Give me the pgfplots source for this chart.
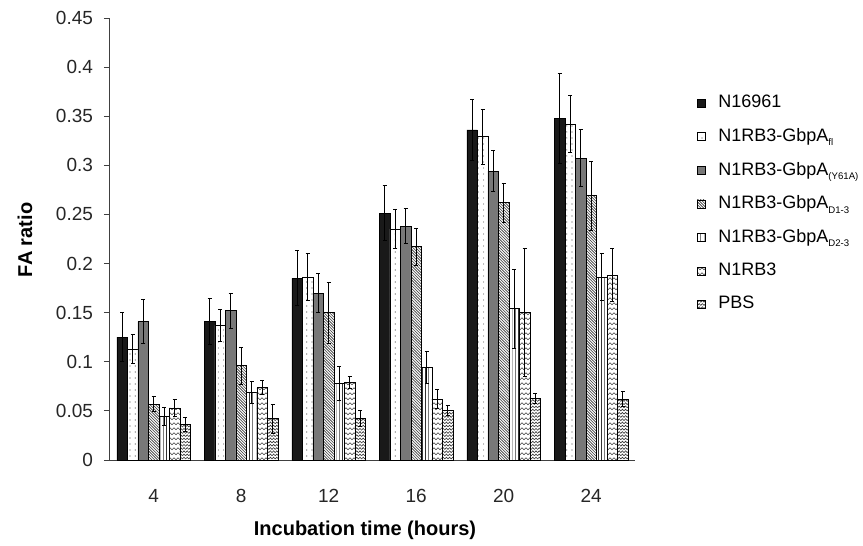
\documentclass[border=0pt]{standalone}
\usepackage{pgfplots}
\pgfplotsset{compat=1.18}
\usepackage{fontspec}
\setmainfont{Liberation Sans}
\usetikzlibrary{patterns}

\newcommand{\sub}[1]{\raisebox{-2.2pt}{\fontsize{4.8}{5}\selectfont #1}}

\pgfdeclarepatternformonly{sdots}{\pgfqpoint{-0.5pt}{-0.5pt}}{\pgfqpoint{0.5pt}{0.5pt}}{\pgfqpoint{2.6pt}{3pt}}{
  \pgfpathcircle{\pgfqpoint{0pt}{0pt}}{0.28pt}\pgfusepath{fill}}
\pgfdeclarepatternformonly{ddiag}{\pgfqpoint{-0.2pt}{-0.2pt}}{\pgfqpoint{1.6pt}{1.6pt}}{\pgfqpoint{1.4pt}{1.4pt}}{
  \pgfsetlinewidth{0.3pt}
  \pgfpathmoveto{\pgfqpoint{0pt}{1.4pt}}\pgfpathlineto{\pgfqpoint{1.4pt}{0pt}}\pgfusepath{stroke}}
\pgfdeclarepatternformonly{vlines}{\pgfqpoint{-0.2pt}{-0.2pt}}{\pgfqpoint{0.2pt}{2pt}}{\pgfqpoint{1.6pt}{2pt}}{
  \pgfsetlinewidth{0.35pt}
  \pgfpathmoveto{\pgfqpoint{0pt}{0pt}}\pgfpathlineto{\pgfqpoint{0pt}{2pt}}\pgfusepath{stroke}}
\pgfdeclarepatternformonly{wavy}{\pgfqpoint{-0.2pt}{-0.2pt}}{\pgfqpoint{2.2pt}{2.7pt}}{\pgfqpoint{2pt}{2.5pt}}{
  \pgfsetlinewidth{0.3pt}
  \pgfpathmoveto{\pgfqpoint{0pt}{0.6pt}}\pgfpathlineto{\pgfqpoint{1pt}{1.6pt}}\pgfpathlineto{\pgfqpoint{2pt}{0.6pt}}\pgfusepath{stroke}}
\pgfdeclarepatternformonly{dwavy}{\pgfqpoint{-0.2pt}{-0.2pt}}{\pgfqpoint{1.8pt}{1.8pt}}{\pgfqpoint{1.6pt}{1.6pt}}{
  \pgfsetlinewidth{0.3pt}
  \pgfpathmoveto{\pgfqpoint{0pt}{0.3pt}}\pgfpathlineto{\pgfqpoint{0.8pt}{1.2pt}}\pgfpathlineto{\pgfqpoint{1.6pt}{0.3pt}}\pgfusepath{stroke}}

\begin{document}
\begin{tikzpicture}
\useasboundingbox (-55pt,-43pt) rectangle (376.5pt,230pt);
\begin{axis}[
  at={(0pt,0pt)}, anchor=origin,
  scale only axis,
  width=262.5pt, height=221pt,
  xmin=0.5, xmax=6.5,
  ymin=0, ymax=0.45,
  axis x line=bottom, axis y line=left,
  axis line style={-, black!75, line width=0.5pt},
  ybar, bar width=0.12,
  xtick={1,2,3,4,5,6},
  xticklabels={4,8,12,16,20,24},
  xtick style={draw=none},
  extra x ticks={0.5,1.5,2.5,3.5,4.5,5.5,6.5},
  extra x tick labels={},
  extra x tick style={tick style={draw=black!75, line width=0.5pt}, major tick length=3pt},
  ytick={0,0.05,0.1,0.15,0.2,0.25,0.3,0.35,0.4,0.45},
  yticklabels={0,0.05,0.1,0.15,0.2,0.25,0.3,0.35,0.4,0.45},
  ytick style={draw=black!75, line width=0.5pt},
  tick align=outside,
  major tick length=3pt,
  tick label style={font=\fontsize{9.5}{11}\selectfont, text=black!85},
  xticklabel style={yshift=-8pt},
  yticklabel style={xshift=-2pt},
  /pgf/number format/assume math mode=true,
  xlabel={\textbf{Incubation time (hours)}},
  ylabel={\textbf{FA ratio}},
  label style={font=\fontsize{12}{14}\selectfont},
  every axis x label/.style={at={([yshift=-35pt]axis description cs:0.4857,0)}, anchor=center},
  every axis y label/.style={at={([xshift=-42.5pt]axis description cs:0,0.498)}, rotate=90, anchor=center},
  error bars/y dir=both, error bars/y explicit,
  error bars/error bar style={line width=0.5pt, black},
  error bars/error mark options={rotate=90, mark size=1.1pt, line width=0.5pt, black},
  legend style={at={(axis description cs:1.117,0.835)}, anchor=north west, draw=none, fill=none,
    font=\fontsize{9}{10}\selectfont, row sep=4.8pt, inner sep=0pt,
    /tikz/every odd column/.append style={column sep=4.5pt}},
  legend cell align=left,
  legend image code/.code={\draw[#1, draw=black, line width=0.3pt] (0pt,-2pt) rectangle (4pt,2pt);},
  every axis plot/.append style={draw=black, line width=0.4pt},
]
\addplot[fill=black!90, bar shift=-0.36] coordinates {
 (1,0.125) +- (0,0.025) (2,0.141) +- (0,0.023) (3,0.185) +- (0,0.028)
 (4,0.251) +- (0,0.028) (5,0.336) +- (0,0.031) (6,0.348) +- (0,0.046)};
\addplot[fill=white, postaction={pattern=sdots, pattern color=black!70}, bar shift=-0.24] coordinates {
 (1,0.113) +- (0,0.015) (2,0.137) +- (0,0.016) (3,0.186) +- (0,0.024)
 (4,0.235) +- (0,0.020) (5,0.329) +- (0,0.028) (6,0.342) +- (0,0.029)};
\addplot[fill=black!53, bar shift=-0.12] coordinates {
 (1,0.141) +- (0,0.022) (2,0.152) +- (0,0.018) (3,0.170) +- (0,0.020)
 (4,0.238) +- (0,0.018) (5,0.294) +- (0,0.021) (6,0.307) +- (0,0.029)};
\addplot[fill=white, postaction={pattern=ddiag, pattern color=black!80}, bar shift=0] coordinates {
 (1,0.057) +- (0,0.008) (2,0.096) +- (0,0.019) (3,0.150) +- (0,0.031)
 (4,0.217) +- (0,0.019) (5,0.262) +- (0,0.020) (6,0.269) +- (0,0.035)};
\addplot[fill=white, postaction={pattern=vlines, pattern color=black!80}, bar shift=0.12] coordinates {
 (1,0.044) +- (0,0.009) (2,0.069) +- (0,0.011) (3,0.078) +- (0,0.017)
 (4,0.094) +- (0,0.016) (5,0.154) +- (0,0.040) (6,0.186) +- (0,0.024)};
\addplot[fill=white, postaction={pattern=wavy, pattern color=black!75}, bar shift=0.24] coordinates {
 (1,0.053) +- (0,0.009) (2,0.074) +- (0,0.007) (3,0.079) +- (0,0.006)
 (4,0.062) +- (0,0.010) (5,0.150) +- (0,0.065) (6,0.188) +- (0,0.027)};
\addplot[fill=white, postaction={pattern=dwavy, pattern color=black!80}, bar shift=0.36] coordinates {
 (1,0.036) +- (0,0.007) (2,0.042) +- (0,0.015) (3,0.042) +- (0,0.008)
 (4,0.050) +- (0,0.005) (5,0.063) +- (0,0.005) (6,0.062) +- (0,0.008)};
\legend{N16961, N1RB3-GbpA\sub{fl}, N1RB3-GbpA\sub{(Y61A)}, N1RB3-GbpA\sub{D1-3}, N1RB3-GbpA\sub{D2-3}, N1RB3, PBS}
\end{axis}
\end{tikzpicture}
\end{document}
